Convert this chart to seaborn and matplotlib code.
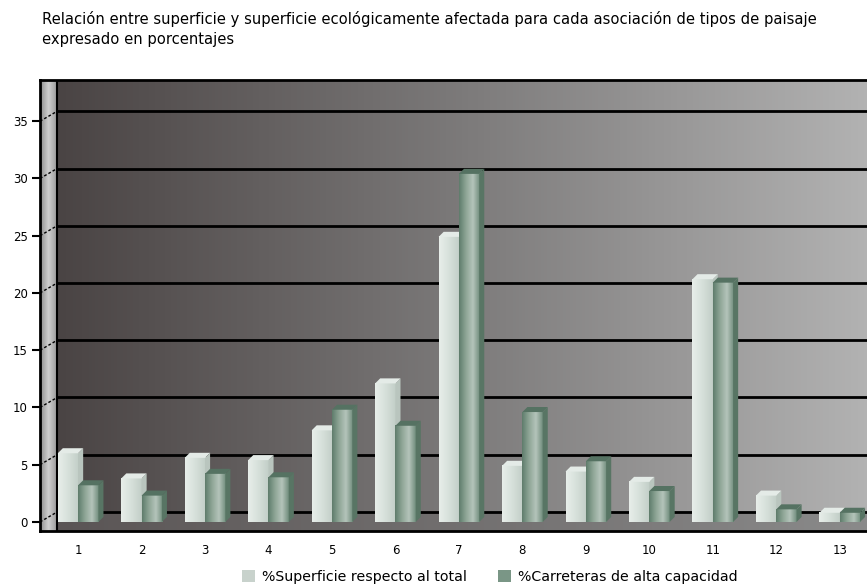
import numpy as np
import pandas as pd
import matplotlib
matplotlib.use("Agg")
import matplotlib.pyplot as plt
import seaborn as sns
from matplotlib.colors import LinearSegmentedColormap
from matplotlib.patches import Polygon, Rectangle

# data
categories = [str(i) for i in range(1, 14)]
superficie = [6.0, 3.8, 5.6, 5.4, 8.0, 12.1, 24.9, 4.9, 4.4, 3.5, 21.2, 2.3, 0.8]
carreteras = [3.2, 2.3, 4.2, 3.9, 9.8, 8.4, 30.4, 9.6, 5.3, 2.7, 20.9, 1.1, 0.8]
series_names = ["%Superficie respecto al total", "%Carreteras de alta capacidad"]
y_ticks = list(range(0, 36, 5))
title = ("Relación entre superficie y superficie ecológicamente afectada para cada "
         "asociación de tipos de paisaje\nexpresado en porcentajes")

light = "#d8e2dc"
dark = "#6a8877"

df = pd.DataFrame({
    "Asociación": categories * 2,
    "Porcentaje": superficie + carreteras,
    "Serie": [series_names[0]] * len(categories) + [series_names[1]] * len(categories),
})

sns.set_theme(style="white")
plt.rcParams["font.family"] = ["DejaVu Sans"]
plt.rcParams["text.color"] = "black"
plt.rcParams["xtick.color"] = "black"
plt.rcParams["ytick.color"] = "black"

W, H = 867, 586
fig = plt.figure(figsize=(W / 100, H / 100), dpi=100)
ax = fig.add_axes([40 / W, (H - 531) / H, (W - 40) / W, (531 - 80) / H])

sns.barplot(data=df, x="Asociación", y="Porcentaje", hue="Serie",
            palette=[light, dark], width=0.64, ax=ax, legend=False,
            saturation=1, zorder=4, linewidth=0)

xlim = (-0.6, 12.43)
ylim = (-0.79, 38.6)
back = 0.87          # back wall offset (data units)
wall = 17 / 827      # side wall width in axes fraction

# background gradient on the back wall
bg_cmap = LinearSegmentedColormap.from_list("bg", ["#4a4444", "#7c7a7a", "#b2b2b2"])
grad = np.linspace(0, 1, 256).reshape(1, -1)
ax.imshow(grad, cmap=bg_cmap, extent=[wall, 1, 0, 1], transform=ax.transAxes,
          aspect="auto", zorder=0)

# floor band
ax.imshow(grad, cmap=LinearSegmentedColormap.from_list("fl", ["#5a5555", "#8a8a8a"]),
          extent=[xlim[0] + 0.27, xlim[1], ylim[0], back], aspect="auto", zorder=1)

# side wall
side_cmap = LinearSegmentedColormap.from_list("sd", ["#8c8c8c", "#d0d0d0", "#9a9a9a"])
ax.imshow(grad, cmap=side_cmap, extent=[0, wall, 0, 1], transform=ax.transAxes,
          aspect="auto", zorder=1)

# back-wall grid lines
for t in y_ticks:
    ax.plot([xlim[0] + 0.27, xlim[1]], [t + back, t + back], color="black", lw=2, zorder=2)
    ax.plot([xlim[0], xlim[0] + 0.27], [t, t + back], color="black", lw=1,
            ls=(0, (2, 1.5)), zorder=2)

# bar gradients and 3D faces
light_cmap = LinearSegmentedColormap.from_list("lt", ["#e8eeea", "#d6e0da", "#c2cec7"])
dark_cmap = LinearSegmentedColormap.from_list("dk", ["#5e7c6b", "#8ea596", "#b4c4ba", "#6f8c7b"])
dx, dy = 0.08, 0.44
for cont, cmap, side_c, top_c in zip(ax.containers, [light_cmap, dark_cmap],
                                     ["#b9c5be", "#587564"], ["#e4ebe7", "#557262"]):
    for bar in cont:
        x0, w, h = bar.get_x(), bar.get_width(), bar.get_height()
        bar.set_visible(False)
        ax.imshow(grad, cmap=cmap, extent=[x0, x0 + w, 0, h], aspect="auto", zorder=4)
        ax.add_patch(Polygon([[x0 + w, 0], [x0 + w + dx, dy], [x0 + w + dx, h + dy], [x0 + w, h]],
                             closed=True, facecolor=side_c, edgecolor="none", zorder=4))
        ax.add_patch(Polygon([[x0, h], [x0 + dx, h + dy], [x0 + w + dx, h + dy], [x0 + w, h]],
                             closed=True, facecolor=top_c, edgecolor="none", zorder=4))

ax.set_xlim(*xlim)
ax.set_ylim(*ylim)
ax.set_yticks(y_ticks)
ax.set_yticklabels([str(t) for t in y_ticks], fontsize=8.5)
ax.tick_params(axis="y", length=6, width=1.5, color="black", left=True, pad=3)
ax.tick_params(axis="x", length=0, pad=9, labelsize=8.5)
ax.set_xlabel("")
ax.set_ylabel("")
ax.axvline(xlim[0] + 0.27, color="black", lw=1.5, zorder=3)
for name, sp in ax.spines.items():
    sp.set_color("black")
    sp.set_linewidth(2)
ax.spines["right"].set_visible(False)

fig.text(42 / W, 1 - 11 / H, title, fontsize=10.6, va="top", ha="left", linespacing=1.45)

handles = [Rectangle((0, 0), 1, 1, facecolor=c, edgecolor="none") for c in ["#c8d2cc", "#7a9686"]]
fig.legend(handles, series_names, loc="center", bbox_to_anchor=(490 / W, 1 - 577 / H),
           ncol=2, frameon=False, fontsize=10.2, handlelength=0.9, handleheight=0.9,
           columnspacing=2.2, handletextpad=0.5)

fig.savefig("out.png", dpi=100)
